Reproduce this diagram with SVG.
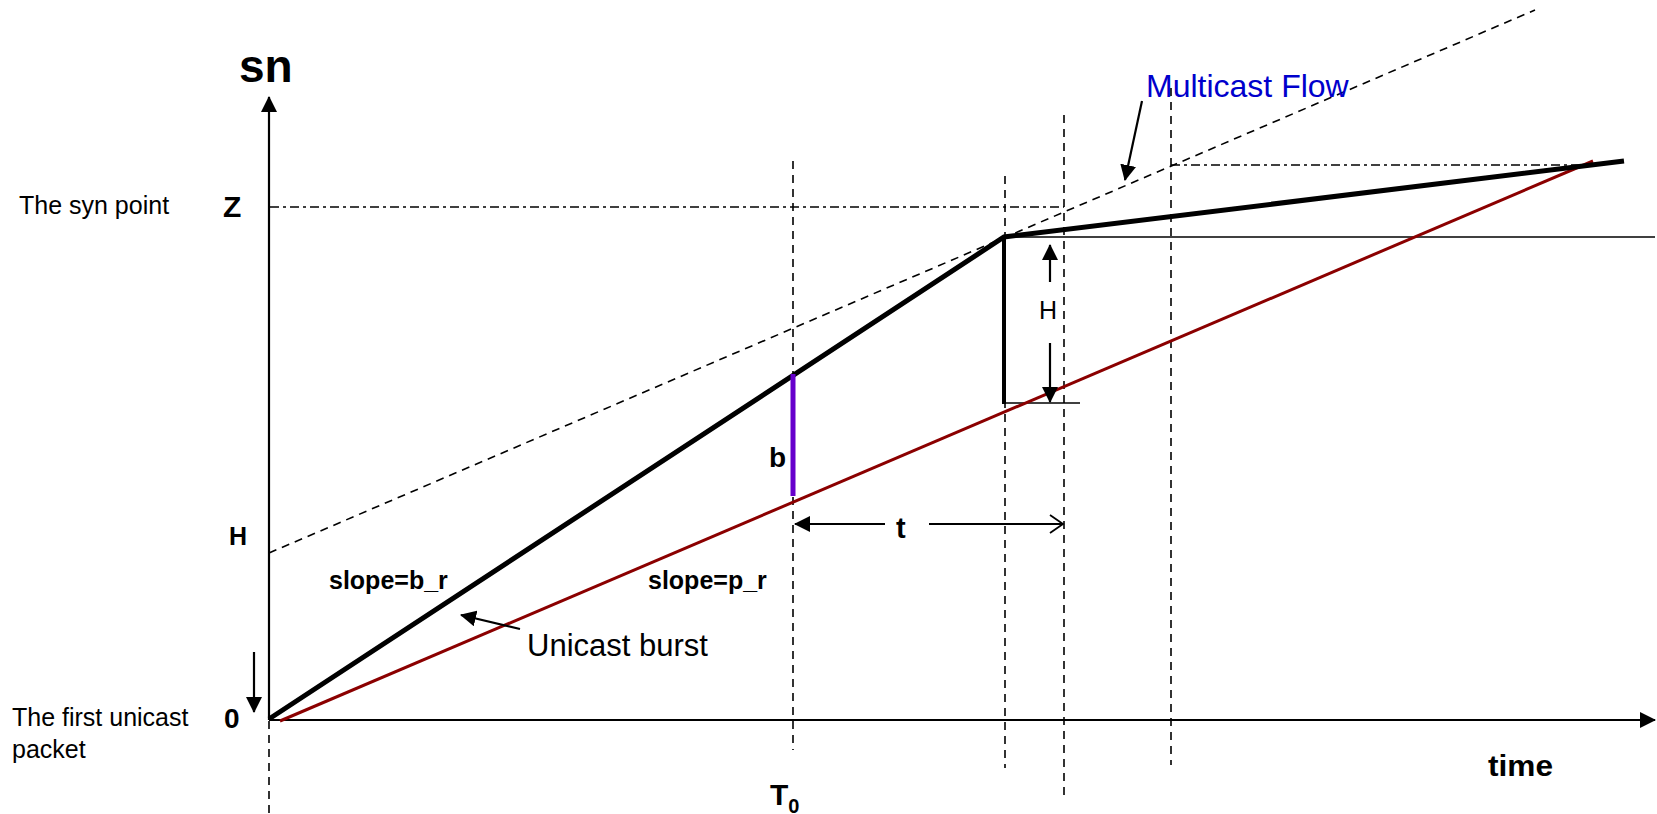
<svg xmlns="http://www.w3.org/2000/svg" width="1657" height="814" viewBox="0 0 1657 814">
<style>
text{font-family:"Liberation Sans",Arial,sans-serif;fill:#000}
.b{font-weight:bold}
.dash{stroke:#000;stroke-width:1.6;stroke-dasharray:8 6;fill:none}
.dd{stroke:#000;stroke-width:1.6;stroke-dasharray:9 4 3 4;fill:none}
.thin{stroke:#000;stroke-width:1.6;fill:none}
.ax{stroke:#000;stroke-width:2.2;fill:none}
</style>
<defs>
<marker id="ah" markerUnits="userSpaceOnUse" markerWidth="16" markerHeight="16" viewBox="0 0 16 16" refX="15" refY="8" orient="auto">
<path d="M0,0 L16,8 L0,16 Z" fill="#000"/>
</marker>
<marker id="ao" markerUnits="userSpaceOnUse" markerWidth="16" markerHeight="20" viewBox="0 0 16 20" refX="14" refY="10" orient="auto">
<path d="M1,1 L14,10 L1,19" fill="none" stroke="#000" stroke-width="1.8"/>
</marker>
</defs>
<rect width="1657" height="814" fill="#fff"/>
<g id="guides">
<line class="dash" x1="269" y1="721" x2="269" y2="814"/>
<line class="dash" x1="793" y1="161" x2="793" y2="750"/>
<line class="dash" x1="1005" y1="176" x2="1005" y2="768"/>
<line class="dash" x1="1064" y1="115" x2="1064" y2="797"/>
<line class="dash" x1="1171" y1="88" x2="1171" y2="765"/>
<line class="dd" x1="270" y1="207" x2="1064" y2="207"/>
<line class="dd" x1="1171" y1="165" x2="1600" y2="165"/>
<line class="dash" x1="269" y1="553" x2="1535" y2="10"/>
<line class="thin" x1="1004" y1="237" x2="1655" y2="237"/>
<line class="thin" x1="1004" y1="403" x2="1080" y2="403"/>
</g>
<g id="axes">
<line class="ax" x1="269" y1="720" x2="269" y2="97" marker-end="url(#ah)"/>
<line class="ax" x1="269" y1="720" x2="1655" y2="720" marker-end="url(#ah)"/>
</g>
<g id="curves">
<line x1="280" y1="721" x2="1593" y2="161" stroke="#8B0000" stroke-width="3"/>
<polyline points="269,719 1004,237 1624,161" fill="none" stroke="#000" stroke-width="5" stroke-linejoin="miter"/>
<line x1="1004" y1="237" x2="1004" y2="404" stroke="#000" stroke-width="4"/>
<line x1="793" y1="374" x2="793" y2="496" stroke="#6600CC" stroke-width="5"/>
</g>
<g id="connectors">
<line class="ax" x1="254" y1="652" x2="254" y2="712" marker-end="url(#ah)"/>
<line class="ax" x1="520" y1="629" x2="461" y2="615" marker-end="url(#ah)"/>
<line class="ax" x1="1142" y1="101" x2="1125" y2="180" marker-end="url(#ah)"/>
<line class="ax" x1="1050" y1="282" x2="1050" y2="245" marker-end="url(#ah)"/>
<line class="ax" x1="1050" y1="343" x2="1050" y2="402" marker-end="url(#ah)"/>
<line class="ax" x1="885" y1="524" x2="795" y2="524" marker-end="url(#ah)"/>
<line class="ax" x1="929" y1="524" x2="1063" y2="524" marker-end="url(#ao)"/>
</g>
<g id="labels">
<text class="b" x="239" y="82" font-size="46">sn</text>
<text x="19" y="214" font-size="25">The syn point</text>
<text class="b" x="223" y="217" font-size="30">Z</text>
<text class="b" x="229" y="545" font-size="25">H</text>
<text class="b" x="224" y="728" font-size="28">0</text>
<text x="12" y="726" font-size="25">The first unicast</text>
<text x="12" y="758" font-size="25">packet</text>
<text class="b" x="329" y="589" font-size="25">slope=b_r</text>
<text class="b" x="648" y="589" font-size="25">slope=p_r</text>
<text x="527" y="656" font-size="31">Unicast burst</text>
<text class="b" x="769" y="467" font-size="28">b</text>
<text class="b" x="896" y="538" font-size="29">t</text>
<text x="1039" y="319" font-size="25">H</text>
<text x="1146" y="97" font-size="32" style="fill:#0000CC">Multicast Flow</text>
<text class="b" x="1488" y="776" font-size="30" textLength="65" lengthAdjust="spacingAndGlyphs">time</text>
<text class="b" x="770" y="805" font-size="30">T<tspan font-size="20" dy="8">0</tspan></text>
</g>
</svg>
